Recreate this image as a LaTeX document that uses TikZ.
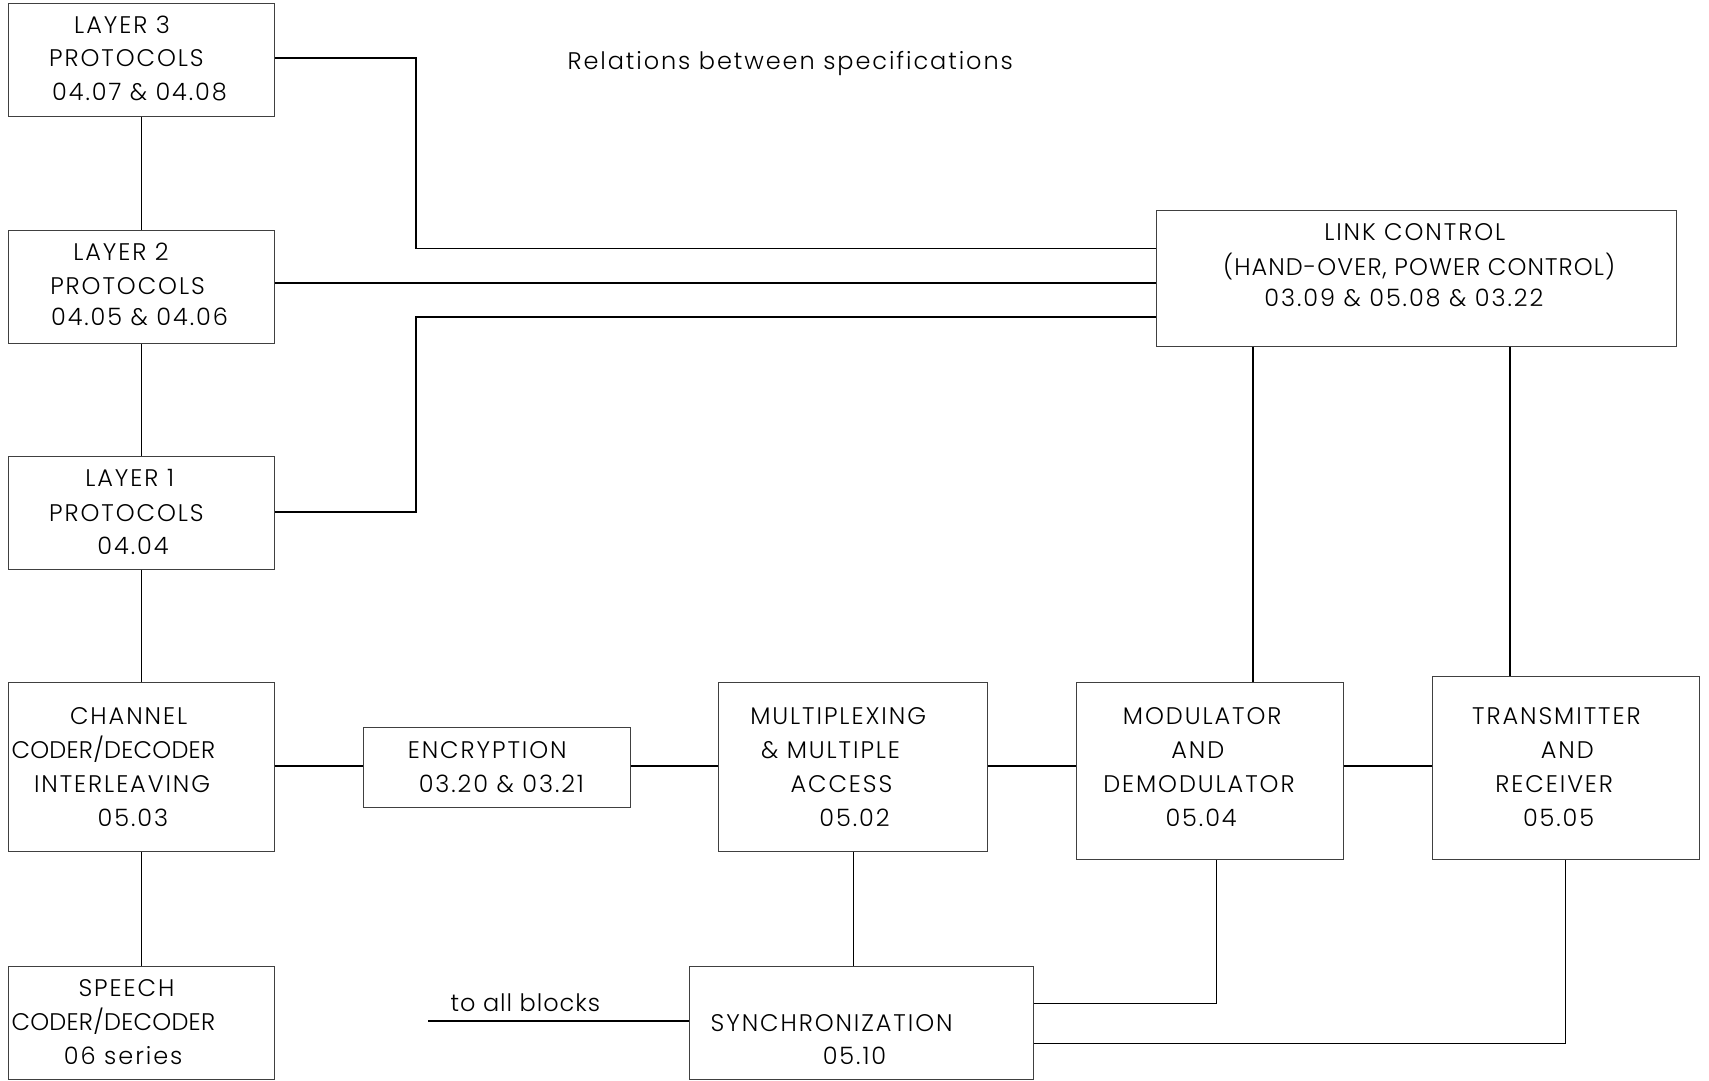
\documentclass[tikz,border=0pt]{standalone}
\usepackage{fontspec}
\setmainfont{Poppins}[UprightFont=* Light,LetterSpace=8]
\begin{document}
\begin{tikzpicture}[x=0.545pt,y=-0.545pt,
  box/.style={draw=black!75,line width=0.5pt,inner sep=0pt,anchor=north west},
  lbl/.style={anchor=base,inner sep=0pt,font=\fontsize{12}{14}\selectfont},
  thk/.style={line width=1pt},
  thn/.style={line width=0.5pt}]
\useasboundingbox (0,0) rectangle (1568,991);
\newcommand\T[4]{\node[lbl] (#1) at ({#2},{#3+8}) {#4};}
\newcommand\B[5]{\node[box,minimum width={(#4-#2)*0.545pt},minimum height={(#5-#3)*0.545pt}] (#1) at (#2,#3) {};}
\newcommand\tight[2]{{\addfontfeature{LetterSpace=#1}#2}}
% boxes
\B{l3}{7}{3}{251}{106}
\B{l2}{7}{211}{251}{315}
\B{l1}{7}{418}{251}{522}
\B{chan}{7}{626}{251}{781}
\B{sp}{7}{886}{251}{990}
\B{enc}{333}{667}{578}{740}
\B{mux}{659}{626}{906}{781}
\B{mod}{987}{626}{1232}{788}
\B{tx}{1314}{620}{1559}{788}
\B{link}{1061}{193}{1538}{317}
\B{sync}{632}{886}{948}{990}
% texts
\T{title}{725}{56}{Relations between specifications}
\T{l3a}{112}{23}{LAYER 3}
\T{l3b}{116}{53}{PROTOCOLS}
\T{l3c}{128}{84}{04.07 \& 04.08}
\T{l2a}{111}{231}{LAYER 2}
\T{l2b}{117}{262}{PROTOCOLS}
\T{l2c}{128}{291}{04.05 \& 04.06}
\T{l1a}{119}{438}{LAYER 1}
\T{l1b}{116}{470}{PROTOCOLS}
\T{l1c}{122}{501}{04.04}
\T{cha}{118}{657}{CHANNEL}
\T{chb}{104}{688}{\tight{1}{CODER/DECODER}}
\T{chc}{112}{719}{INTERLEAVING}
\T{chd}{122}{750}{05.03}
\T{spa}{116}{906}{SPEECH}
\T{spb}{104}{937}{\tight{1}{CODER/DECODER}}
\T{spc}{113}{969}{06 series}
\T{enca}{447}{688}{ENCRYPTION}
\T{encb}{460}{719}{03.20 \& 03.21}
\T{muxa}{769}{657}{MULTIPLEXING}
\T{muxb}{762}{688}{\& MULTIPLE}
\T{muxc}{772}{719}{ACCESS}
\T{muxd}{784}{750}{05.02}
\T{moda}{1103}{657}{MODULATOR}
\T{modb}{1099}{688}{AND}
\T{modc}{1100}{719}{DEMODULATOR}
\T{modd}{1102}{750}{05.04}
\T{txa}{1428}{657}{TRANSMITTER}
\T{txb}{1438}{688}{AND}
\T{txc}{1426}{719}{RECEIVER}
\T{txd}{1430}{750}{05.05}
\T{lka}{1298}{213}{LINK CONTROL}
\T{lkb}{1302}{245}{\tight{4.5}{(HAND-OVER, POWER CONTROL)}}
\T{lkc}{1288}{273}{03.09 \& 05.08 \& 03.22}
\T{sya}{763}{938}{SYNCHRONIZATION}
\T{syb}{784}{969}{05.10}
\T{tab}{482}{920}{\tight{4}{to all blocks}}
% coordinates
\coordinate (c1) at (382,228);
\coordinate (c2) at (382,291);
\coordinate (m1) at (1150,0);
\coordinate (m2) at (1385,0);
\coordinate (s1) at (1116,921);
\coordinate (s2) at (1436,957);
\coordinate (row) at (0,703);
\coordinate (ta) at (393,937);
% connectors
\draw[thn] (l3.south) -- (l2.north);
\draw[thn] (l2.south) -- (l1.north);
\draw[thn] (l1.south) -- (chan.north);
\draw[thn] (chan.south) -- (sp.north);
\draw[thk] (l3.east |- 0,53) -| (c1);
\draw[thn] (c1) -- (c1 -| link.west);
\draw[thk] (l2.east |- 0,260) -- (link.west |- 0,260);
\draw[thk] (l1.east |- 0,470) -| (c2) -- (c2 -| link.west);
\draw[thk] (link.south -| m1) -- (mod.north -| m1);
\draw[thk] (link.south -| m2) -- (tx.north -| m2);
\draw[thk] (chan.east |- row) -- (enc.west |- row);
\draw[thk] (enc.east |- row) -- (mux.west |- row);
\draw[thk] (mux.east |- row) -- (mod.west |- row);
\draw[thk] (mod.east |- row) -- (tx.west |- row);
\draw[thn] (mux.south) -- (mux.south |- sync.north);
\draw[thn] (s1 -| sync.east) -- (s1) -- (s1 |- mod.south);
\draw[thn] (s2 -| sync.east) -- (s2) -- (s2 |- tx.south);
\draw[thk] (ta) -- (ta -| sync.west);
\end{tikzpicture}
\end{document}
